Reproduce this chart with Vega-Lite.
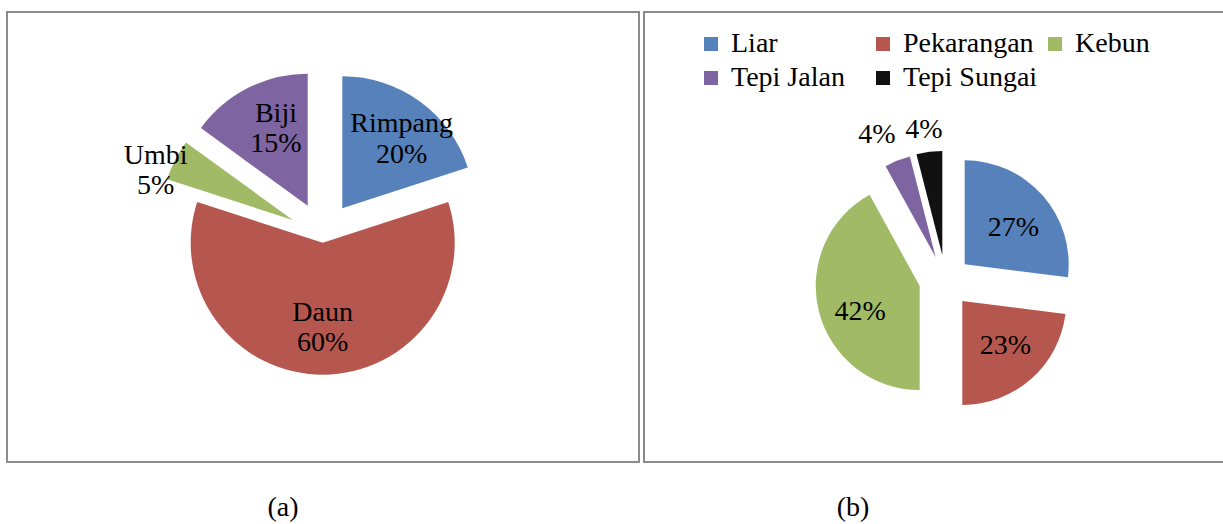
{
  "$schema": "https://vega.github.io/schema/vega-lite/v6.json",
  "padding": {"left": 6, "top": 11, "right": 0, "bottom": 0},
  "background": "white",
  "config": {
    "view": {"stroke": "#8c8c8c", "strokeWidth": 2},
    "font": "Liberation Serif",
    "text": {"font": "Liberation Serif", "fontSize": 28, "baseline": "alphabetic", "align": "center"}
  },
  "spacing": 3,
  "resolve": {"scale": {"color": "independent", "theta": "independent"}, "legend": {"color": "independent"}},
  "hconcat": [
    {
      "width": 632,
      "height": 450,
      "view": {"stroke": "#8c8c8c", "strokeWidth": 2},
      "title": {"text": "(a)", "orient": "bottom", "offset": 32, "dx": -40, "font": "Liberation Serif", "fontSize": 28, "fontWeight": "normal", "color": "black"},
      "data": {"values": [
        {"o": 1, "cat": "Rimpang", "v": 0.20},
        {"o": 2, "cat": "Daun", "v": 0.60},
        {"o": 3, "cat": "Umbi", "v": 0.05},
        {"o": 4, "cat": "Biji", "v": 0.15}
      ]},
      "encoding": {
        "theta": {"field": "v", "type": "quantitative", "stack": true, "scale": {"domain": [0, 1]}},
        "order": {"field": "o", "type": "quantitative"},
        "color": {"field": "cat", "type": "nominal", "scale": {"domain": ["Rimpang", "Daun", "Umbi", "Biji"], "range": ["#5781BA", "#B5574F", "#A1BA66", "#7E64A0"]}, "legend": null}
      },
      "layer": [
        {"mark": {"type": "arc", "outerRadius": 132, "xOffset": 19.3, "yOffset": -28.7}, "encoding": {"opacity": {"condition": {"test": "datum.cat === 'Rimpang'", "value": 1}, "value": 0}}},
        {"mark": {"type": "arc", "outerRadius": 132, "xOffset": -0.3, "yOffset": 5.7}, "encoding": {"opacity": {"condition": {"test": "datum.cat === 'Daun'", "value": 1}, "value": 0}}},
        {"mark": {"type": "arc", "outerRadius": 132, "xOffset": -30.3, "yOffset": -17}, "encoding": {"opacity": {"condition": {"test": "datum.cat === 'Umbi'", "value": 1}, "value": 0}}},
        {"mark": {"type": "arc", "outerRadius": 132, "xOffset": -15.3, "yOffset": -31.3}, "encoding": {"opacity": {"condition": {"test": "datum.cat === 'Biji'", "value": 1}, "value": 0}}},

        {"mark": {"type": "text", "radius": 84, "xOffset": 19.3, "yOffset": -28.7, "dx": 10, "dy": -8.6}, "encoding": {"text": {"field": "cat"}, "color": {"value": "black"}, "opacity": {"condition": {"test": "datum.cat === 'Rimpang'", "value": 1}, "value": 0}}},
        {"mark": {"type": "text", "radius": 84, "xOffset": 19.3, "yOffset": -28.7, "dx": 10, "dy": 22.7}, "encoding": {"text": {"field": "v", "format": ".0%"}, "color": {"value": "black"}, "opacity": {"condition": {"test": "datum.cat === 'Rimpang'", "value": 1}, "value": 0}}},

        {"mark": {"type": "text", "radius": 93, "xOffset": -0.3, "yOffset": 5.7, "dy": -15}, "encoding": {"text": {"field": "cat"}, "color": {"value": "black"}, "opacity": {"condition": {"test": "datum.cat === 'Daun'", "value": 1}, "value": 0}}},
        {"mark": {"type": "text", "radius": 93, "xOffset": -0.3, "yOffset": 5.7, "dy": 15}, "encoding": {"text": {"field": "v", "format": ".0%"}, "color": {"value": "black"}, "opacity": {"condition": {"test": "datum.cat === 'Daun'", "value": 1}, "value": 0}}},

        {"mark": {"type": "text", "radius": 150, "xOffset": -30.3, "yOffset": -17, "dx": -3.5, "dy": 12}, "encoding": {"text": {"field": "cat"}, "color": {"value": "black"}, "opacity": {"condition": {"test": "datum.cat === 'Umbi'", "value": 1}, "value": 0}}},
        {"mark": {"type": "text", "radius": 150, "xOffset": -30.3, "yOffset": -17, "dx": -3.5, "dy": 42}, "encoding": {"text": {"field": "v", "format": ".0%"}, "color": {"value": "black"}, "opacity": {"condition": {"test": "datum.cat === 'Umbi'", "value": 1}, "value": 0}}},

        {"mark": {"type": "text", "radius": 70, "xOffset": -15.3, "yOffset": -31.3, "dy": -21.6}, "encoding": {"text": {"field": "cat"}, "color": {"value": "black"}, "opacity": {"condition": {"test": "datum.cat === 'Biji'", "value": 1}, "value": 0}}},
        {"mark": {"type": "text", "radius": 70, "xOffset": -15.3, "yOffset": -31.3, "dy": 8.4}, "encoding": {"text": {"field": "v", "format": ".0%"}, "color": {"value": "black"}, "opacity": {"condition": {"test": "datum.cat === 'Biji'", "value": 1}, "value": 0}}}
      ]
    },
    {
      "width": 580,
      "height": 450,
      "view": {"stroke": "#8c8c8c", "strokeWidth": 2},
      "title": {"text": "(b)", "orient": "bottom", "offset": 32, "dx": -81, "font": "Liberation Serif", "fontSize": 28, "fontWeight": "normal", "color": "black"},
      "data": {"values": [
        {"o": 1, "cat": "Liar", "v": 0.27},
        {"o": 2, "cat": "Pekarangan", "v": 0.23},
        {"o": 3, "cat": "Kebun", "v": 0.42},
        {"o": 4, "cat": "Tepi Jalan", "v": 0.04},
        {"o": 5, "cat": "Tepi Sungai", "v": 0.04}
      ]},
      "encoding": {
        "theta": {"field": "v", "type": "quantitative", "stack": true, "scale": {"domain": [0, 1]}},
        "order": {"field": "o", "type": "quantitative"},
        "color": {
          "field": "cat", "type": "nominal",
          "scale": {"domain": ["Liar", "Pekarangan", "Kebun", "Tepi Jalan", "Tepi Sungai"], "range": ["#5781BA", "#B5574F", "#A1BA66", "#7E64A0", "#111111"]},
          "legend": {
            "title": null, "orient": "none", "legendX": 53, "legendY": 18, "direction": "horizontal",
            "columns": 3, "gridAlign": "all", "columnPadding": 3, "rowPadding": 6,
            "symbolType": "square", "symbolSize": 196, "symbolStrokeWidth": 0, "symbolOpacity": 1,
            "labelFont": "Liberation Serif", "labelFontSize": 28, "labelColor": "black", "labelOffset": 6, "labelLimit": 400
          }
        }
      },
      "layer": [
        {"mark": {"type": "arc", "outerRadius": 104, "xOffset": 30.7, "yOffset": 27.3}, "encoding": {"opacity": {"condition": {"test": "datum.cat === 'Liar'", "value": 1}, "value": 0}}},
        {"mark": {"type": "arc", "outerRadius": 104, "xOffset": 28.3, "yOffset": 64}, "encoding": {"opacity": {"condition": {"test": "datum.cat === 'Pekarangan'", "value": 1}, "value": 0}}},
        {"mark": {"type": "arc", "outerRadius": 104, "xOffset": -14.3, "yOffset": 49}, "encoding": {"opacity": {"condition": {"test": "datum.cat === 'Kebun'", "value": 1}, "value": 0}}},
        {"mark": {"type": "arc", "outerRadius": 104, "xOffset": 1.7, "yOffset": 20.3}, "encoding": {"opacity": {"condition": {"test": "datum.cat === 'Tepi Jalan'", "value": 1}, "value": 0}}},
        {"mark": {"type": "arc", "outerRadius": 104, "xOffset": 8.3, "yOffset": 18}, "encoding": {"opacity": {"condition": {"test": "datum.cat === 'Tepi Sungai'", "value": 1}, "value": 0}}},

        {"mark": {"type": "text", "radius": 65, "xOffset": 30.7, "yOffset": 27.3, "dy": 14.5}, "encoding": {"text": {"field": "v", "format": ".0%"}, "color": {"value": "black"}, "opacity": {"condition": {"test": "datum.cat === 'Liar'", "value": 1}, "value": 0}}},
        {"mark": {"type": "text", "radius": 65, "xOffset": 28.3, "yOffset": 64, "dy": 4.2}, "encoding": {"text": {"field": "v", "format": ".0%"}, "color": {"value": "black"}, "opacity": {"condition": {"test": "datum.cat === 'Pekarangan'", "value": 1}, "value": 0}}},
        {"mark": {"type": "text", "radius": 61.4, "xOffset": -14.3, "yOffset": 49, "dy": 18.7}, "encoding": {"text": {"field": "v", "format": ".0%"}, "color": {"value": "black"}, "opacity": {"condition": {"test": "datum.cat === 'Kebun'", "value": 1}, "value": 0}}},
        {"mark": {"type": "text", "radius": 125, "xOffset": 1.7, "yOffset": 20.3, "dx": -12.9, "dy": 2.3}, "encoding": {"text": {"field": "v", "format": ".0%"}, "color": {"value": "black"}, "opacity": {"condition": {"test": "datum.cat === 'Tepi Jalan'", "value": 1}, "value": 0}}},
        {"mark": {"type": "text", "radius": 120, "xOffset": 8.3, "yOffset": 18, "dx": -3.3, "dy": 2.3}, "encoding": {"text": {"field": "v", "format": ".0%"}, "color": {"value": "black"}, "opacity": {"condition": {"test": "datum.cat === 'Tepi Sungai'", "value": 1}, "value": 0}}}
      ]
    }
  ]
}
